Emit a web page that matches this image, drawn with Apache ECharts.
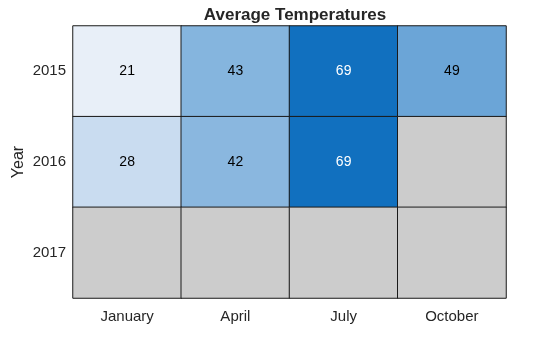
<!DOCTYPE html>
<html><head><meta charset="utf-8">
<script src="https://cdn.jsdelivr.net/npm/echarts@6/dist/echarts.min.js"></script>
<style>html,body{margin:0;padding:0;background:#fff}#c{width:560px;height:337px}</style>
</head><body><div id="c"></div>
<script>
const months = ['January','April','July','October'];
const years = ['2015','2016','2017'];
const temps2015 = [21, 43, 69, 49];
const temps2016 = [28, 42, 69, null];
const temps2017 = [null, null, null, null];
const rows = [temps2015, temps2016, temps2017];

const FONT = '"Liberation Sans", Arial, Helvetica, sans-serif';
const valueData = [], missingData = [];
rows.forEach((r, yi) => r.forEach((v, xi) => {
  if (v === null) missingData.push([xi, yi, 0]);
  else valueData.push({value: [xi, yi, v], label: {color: v > 60 ? '#ffffff' : '#000000'}});
}));

const chart = echarts.init(document.getElementById('c'));
chart.setOption({
  animation: false,
  textStyle: {fontFamily: FONT},
  title: {text: 'Average Temperatures', left: 290, textAlign: 'center', top: 2,
    textStyle: {fontFamily: FONT, fontWeight: 'bold', fontSize: 17, color: '#262626'}},
  grid: {left: 73, right: 54, top: 26, bottom: 39, containLabel: false, outerBoundsMode: 'none'},
  xAxis: {type: 'category', data: months,
    axisLine: {show: false}, axisTick: {show: false}, splitLine: {show: false},
    axisLabel: {fontFamily: FONT, fontSize: 15, color: '#262626', margin: 11}},
  yAxis: {type: 'category', data: years, inverse: true,
    name: 'Year', nameLocation: 'middle', nameGap: 46, nameRotate: 90, nameMoveOverlap: false,
    nameTextStyle: {fontFamily: FONT, fontSize: 16, color: '#262626'},
    axisLine: {show: false}, axisTick: {show: false}, splitLine: {show: false},
    axisLabel: {fontFamily: FONT, fontSize: 15, color: '#262626', margin: 7}},
  visualMap: {show: false, seriesIndex: 0, dimension: 2, min: 21, max: 69,
    inRange: {color: ['#E8EFF8', '#1170BF']}},
  series: [
    {type: 'heatmap', data: valueData,
      itemStyle: {borderColor: '#1a1a1a', borderWidth: 1},
      label: {show: true, fontFamily: FONT, fontSize: 14, formatter: p => p.value[2]},
      emphasis: {disabled: true}},
    {type: 'heatmap', data: missingData,
      itemStyle: {color: '#CCCCCC', borderColor: '#1a1a1a', borderWidth: 1},
      label: {show: false}, emphasis: {disabled: true}}
  ]
});
</script></body></html>
